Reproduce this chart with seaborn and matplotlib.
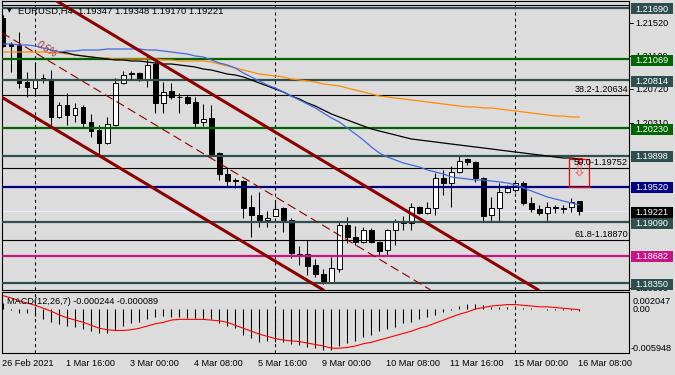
import numpy as np
import pandas as pd
import matplotlib
matplotlib.use('Agg')
import matplotlib.pyplot as plt
import matplotlib.transforms as mtransforms
from matplotlib.patches import Rectangle
import seaborn as sns

sns.set_theme(style='white')
plt.rcParams['font.family'] = ['Liberation Sans', 'DejaVu Sans']

W, H = 675, 375
BG = '#DCDCDC'

# ---------------- data ----------------
opens = [1.21569, 1.21253, 1.21241, 1.20791, 1.20718, 1.20840, 1.20828, 1.20366, 1.20512, 1.20391,
         1.20488, 1.20306, 1.20208, 1.20050, 1.20269, 1.20779, 1.20901, 1.20901, 1.20828, 1.21010,
         1.20536, 1.20682, 1.20615, 1.20609, 1.20549, 1.20306, 1.20354, 1.19929, 1.19674, 1.19595,
         1.19589, 1.19273, 1.19176, 1.19115, 1.19164, 1.19261, 1.19115, 1.18708, 1.18702, 1.18569,
         1.18460, 1.18362, 1.18520, 1.19055, 1.18909, 1.18848, 1.18994, 1.18848, 1.18751, 1.18994,
         1.19103, 1.19079, 1.19273, 1.19200, 1.19261, 1.19625, 1.19565, 1.19698, 1.19856, 1.19820,
         1.19625, 1.19176, 1.19261, 1.19455, 1.19480, 1.19565, 1.19322, 1.19249, 1.19200, 1.19267,
         1.19249, 1.19273, 1.19347]
highs = [1.21605, 1.21277, 1.21399, 1.20913, 1.21022, 1.20888, 1.20937, 1.20549, 1.20658, 1.20536,
         1.20512, 1.20403, 1.20269, 1.20366, 1.20840, 1.20925, 1.20925, 1.20913, 1.21107, 1.21034,
         1.20791, 1.20779, 1.20658, 1.20633, 1.20609, 1.20524, 1.20512, 1.19941, 1.19759, 1.19625,
         1.19601, 1.19419, 1.19455, 1.19225, 1.19346, 1.19273, 1.19140, 1.18800, 1.18872, 1.18642,
         1.18520, 1.18666, 1.19091, 1.19152, 1.19042, 1.19030, 1.19018, 1.18860, 1.19006, 1.19128,
         1.19164, 1.19322, 1.19285, 1.19334, 1.19686, 1.19723, 1.19771, 1.19905, 1.19868, 1.19832,
         1.19638, 1.19395, 1.19565, 1.19540, 1.19601, 1.19589, 1.19395, 1.19298, 1.19334, 1.19298,
         1.19298, 1.19383, 1.19348]
lows = [1.21216, 1.20913, 1.20718, 1.20609, 1.20633, 1.20779, 1.20269, 1.20354, 1.20269, 1.20306,
        1.20245, 1.20123, 1.19905, 1.20038, 1.20257, 1.20767, 1.20816, 1.20803, 1.20731, 1.20415,
        1.20415, 1.20585, 1.20415, 1.20524, 1.20245, 1.20257, 1.19880, 1.19601, 1.19516, 1.19504,
        1.19140, 1.18909, 1.19030, 1.19030, 1.19158, 1.18970, 1.18654, 1.18569, 1.18447, 1.18423,
        1.18338, 1.18350, 1.18484, 1.18836, 1.18812, 1.18836, 1.18836, 1.18690, 1.18690, 1.18812,
        1.18994, 1.18994, 1.19188, 1.19194, 1.19176, 1.19419, 1.19273, 1.19686, 1.19783, 1.19577,
        1.19091, 1.19091, 1.19091, 1.19443, 1.19455, 1.19298, 1.19213, 1.19176, 1.19103, 1.19200,
        1.19200, 1.19213, 1.19170]
closes = [1.21229, 1.21229, 1.20779, 1.20731, 1.20828, 1.20816, 1.20366, 1.20512, 1.20391, 1.20476,
          1.20293, 1.20196, 1.20050, 1.20281, 1.20779, 1.20876, 1.20888, 1.20816, 1.20998, 1.20536,
          1.20670, 1.20609, 1.20603, 1.20536, 1.20293, 1.20342, 1.19917, 1.19674, 1.19589, 1.19583,
          1.19261, 1.19176, 1.19103, 1.19140, 1.19249, 1.19103, 1.18715, 1.18696, 1.18557, 1.18460,
          1.18362, 1.18532, 1.19055, 1.18909, 1.18848, 1.18994, 1.18848, 1.18739, 1.18994, 1.19091,
          1.19073, 1.19273, 1.19200, 1.19261, 1.19625, 1.19565, 1.19698, 1.19832, 1.19820, 1.19625,
          1.19164, 1.19261, 1.19455, 1.19504, 1.19565, 1.19322, 1.19249, 1.19200, 1.19273, 1.19255,
          1.19255, 1.19334, 1.19221]

ma_blue = [1.21253, 1.21253, 1.21241, 1.21241, 1.21229, 1.21204, 1.21180, 1.21156, 1.21168, 1.21168,
           1.21180, 1.21180, 1.21180, 1.21192, 1.21192, 1.21192, 1.21192, 1.21192, 1.21180, 1.21180,
           1.21168, 1.21156, 1.21143, 1.21131, 1.21107, 1.21095, 1.21059, 1.21022, 1.20998, 1.20961,
           1.20901, 1.20852, 1.20803, 1.20755, 1.20718, 1.20670, 1.20621, 1.20573, 1.20524, 1.20476,
           1.20415, 1.20354, 1.20306, 1.20233, 1.20160, 1.20087, 1.20002, 1.19929, 1.19880, 1.19844,
           1.19808, 1.19783, 1.19759, 1.19723, 1.19698, 1.19674, 1.19638, 1.19625, 1.19613, 1.19601,
           1.19601, 1.19589, 1.19577, 1.19565, 1.19540, 1.19504, 1.19468, 1.19431, 1.19395, 1.19370,
           1.19346, 1.19322, 1.19298]
ma_black = [np.nan] * 7 + [
    1.21156, 1.21144, 1.21119,
    1.21107, 1.21095, 1.21083, 1.21071, 1.21059, 1.21059, 1.21046, 1.21046, 1.21034, 1.21022,
    1.21010, 1.21010, 1.20998, 1.20986, 1.20973, 1.20949, 1.20937, 1.20913, 1.20888, 1.20876,
    1.20852, 1.20816, 1.20779, 1.20743, 1.20706, 1.20670, 1.20621, 1.20585, 1.20536, 1.20500,
    1.20451, 1.20403, 1.20366, 1.20330, 1.20293, 1.20257, 1.20221, 1.20196, 1.20172, 1.20148,
    1.20123, 1.20099, 1.20087, 1.20075, 1.20063, 1.20050, 1.20038, 1.20026, 1.20014, 1.20002,
    1.19990, 1.19978, 1.19965, 1.19953, 1.19941, 1.19929, 1.19917, 1.19905, 1.19893, 1.19880,
    1.19868, 1.19868, 1.19856]
ma_orange = [1.21156, 1.21156, 1.21156, 1.21156, 1.21156, 1.21156, 1.21144, 1.21144, 1.21131, 1.21119,
             1.21107, 1.21095, 1.21083, 1.21083, 1.21071, 1.21071, 1.21071, 1.21071, 1.21071, 1.21071,
             1.21059, 1.21059, 1.21046, 1.21046, 1.21046, 1.21046, 1.21034, 1.21010, 1.20986, 1.20961,
             1.20937, 1.20913, 1.20888, 1.20876, 1.20864, 1.20852, 1.20828, 1.20816, 1.20803, 1.20791,
             1.20767, 1.20755, 1.20743, 1.20718, 1.20694, 1.20670, 1.20646, 1.20621, 1.20609, 1.20597,
             1.20585, 1.20573, 1.20561, 1.20549, 1.20536, 1.20524, 1.20512, 1.20500, 1.20488, 1.20488,
             1.20476, 1.20476, 1.20463, 1.20451, 1.20439, 1.20427, 1.20415, 1.20403, 1.20391, 1.20378,
             1.20378, 1.20366, 1.20366]

macd_main = [0.0008, -0.0001, -0.0005, -0.0006, -0.0010, -0.0014, -0.0018, -0.0020, -0.0023, -0.0025,
             -0.0027, -0.0030, -0.0033, -0.0033, -0.0028, -0.0023, -0.0019, -0.0017, -0.0014, -0.0011,
             -0.0010, -0.0011, -0.0011, -0.0012, -0.0012, -0.0013, -0.0014, -0.0019, -0.0023, -0.0026,
             -0.0035, -0.0039, -0.0044, -0.0043, -0.0044, -0.0044, -0.0047, -0.0049, -0.0051, -0.0053,
             -0.0055, -0.0055, -0.0050, -0.0046, -0.0043, -0.0038, -0.0035, -0.0030, -0.0027, -0.0024,
             -0.0019, -0.0017, -0.0014, -0.0011, -0.0008, -0.0004, -0.0001, 0.0004, 0.0007, 0.0007,
             0.0005, 0.0003, 0.0003, 0.0003, 0.0002, 0.0002, 0.0001, 0.0000, -0.0001, -0.0001,
             -0.0002, -0.0002, -0.000244]
macd_signal = [0.0018, 0.0015, 0.0011, 0.0008, 0.0005, 0.0001, -0.0003, -0.0008, -0.0012, -0.0015,
               -0.0018, -0.0022, -0.0026, -0.0028, -0.0029, -0.0029, -0.0028, -0.0026, -0.0023, -0.0020,
               -0.0018, -0.0015, -0.0014, -0.0014, -0.0014, -0.0014, -0.0015, -0.0016, -0.0018, -0.0022,
               -0.0026, -0.0030, -0.0034, -0.0037, -0.0040, -0.0042, -0.0043, -0.0044, -0.0046, -0.0048,
               -0.0050, -0.0053, -0.0053, -0.0052, -0.0050, -0.0047, -0.0045, -0.0042, -0.0039, -0.0036,
               -0.0033, -0.0030, -0.0026, -0.0023, -0.0019, -0.0015, -0.0011, -0.0007, -0.0004, 0.0000,
               0.0002, 0.0004, 0.0005, 0.0006, 0.0006, 0.0005, 0.0004, 0.0003, 0.0003, 0.0002,
               0.0001, 0.0000, -0.000089]

time_label_bars = [0, 8, 16, 24, 32, 40, 48, 56, 64, 72]
time_labels = ['26 Feb 2021', '1 Mar 16:00', '3 Mar 00:00', '4 Mar 08:00', '5 Mar 16:00',
               '9 Mar 00:00', '10 Mar 08:00', '11 Mar 16:00', '15 Mar 00:00', '16 Mar 08:00']
week_separator_bars = [4, 34, 64]

level_prices = [1.21690, 1.21069, 1.20814, 1.20230, 1.19898, 1.19520, 1.19090, 1.18682, 1.18350]
level_colors = ['#2F4F4F', '#006400', '#2F4F4F', '#006400', '#2F4F4F', '#000080', '#2F4F4F',
                '#C71585', '#2F4F4F']
scale_ticks = [1.21520, 1.21120, 1.20720, 1.20310, 1.18300]
fib_levels = [23.6, 38.2, 50.0, 61.8]
fib_prices = [1.21725, 1.20634, 1.19752, 1.18870]
macd_scale_values = [0.002047, 0.0, -0.005948]
macd_scale_labels = ['0.002047', '0.00', '-0.005948']

# channel objects (time index, price anchors)
channel_upper = [(10, 1.21581), (60, 1.18666)]
channel_lower = [(0, 1.20595), (40, 1.18265)]
channel_mid = [(10, 1.20796), (60, 1.17881)]
signal_box = (70.71, 1.19516, 2.5, 0.00340)
signal_marker = (71.84, 1.19820, 0.5, 0.00048)
signal_arrow = (72.0, 1.19710)

# ---------------- figure ----------------
bars = np.arange(len(closes))
o = np.array(opens); c = np.array(closes); hi = np.array(highs); lo = np.array(lows)
PX = 0.000121449  # price per pixel

fig = plt.figure(figsize=(W / 100, H / 100), dpi=100, facecolor=BG)
ax = fig.add_axes([2 / W, 1 - 290 / H, 627 / W, 289 / H])
ax2 = fig.add_axes([2 / W, 1 - 353 / H, 627 / W, 61 / H])
for a in (ax, ax2):
    a.set_facecolor(BG)
    for s in a.spines.values():
        s.set_color('black')
        s.set_linewidth(0.8)
    a.set_xlim(-0.16, 78.2)
ax.set_ylim(1.18265, 1.21775)
ax2.set_ylim(-0.005948, 0.0023)

# separators
for k in week_separator_bars:
    for a in (ax, ax2):
        a.axvline(k, color='black', lw=0.75, ls=(0, (3, 3)), zorder=1)

# horizontal levels
ax.axhline(closes[-1], color='#ECECFF', lw=0.9, zorder=1.5)
for p, col in zip(level_prices, level_colors):
    ax.axhline(p, color=col, lw=1.6, zorder=4)
trf = mtransforms.blended_transform_factory(ax.transAxes, ax.transData)
for lvl, p in zip(fib_levels, fib_prices):
    ax.axhline(p, color='black', lw=0.8, zorder=4)
    ax.text(0.9985, p + 0.8 * PX, f'{lvl:.1f}-{p:.5f}', transform=trf,
            ha='right', va='bottom', fontsize=6.6, color='black', zorder=9, clip_on=True)

# candles
up = c >= o
ax.vlines(bars, lo, hi, color='black', lw=0.75, zorder=2)
ax.bar(bars, np.maximum(np.abs(c - o), 0.00002), bottom=np.minimum(o, c), width=0.55,
       color=np.where(up, 'white', 'black'), edgecolor='black', linewidth=0.7, zorder=3)

# moving averages
df = pd.DataFrame({'bar': bars, 'blue': ma_blue, 'black': ma_black, 'orange': ma_orange})
sns.lineplot(data=df, x='bar', y='orange', ax=ax, color='#FF8C00', lw=0.9, zorder=5)
sns.lineplot(data=df, x='bar', y='black', ax=ax, color='black', lw=0.9, zorder=5)
sns.lineplot(data=df, x='bar', y='blue', ax=ax, color='#4169E1', lw=0.9, zorder=5)

# channel
ax.axline(channel_upper[0], channel_upper[1], color='#8B0000', lw=2.2, zorder=6)
ax.axline(channel_lower[0], channel_lower[1], color='#8B0000', lw=2.2, zorder=6)
ax.axline(channel_mid[0], channel_mid[1], color='#8B0000', lw=0.8, ls=(0, (8, 4)), zorder=6)
ax.text(5.46, 1.21192, '0.5%', rotation=-32, color='#A03030', fontsize=7, style='italic',
        ha='center', va='center', zorder=7)

# signal box
ax.add_patch(Rectangle(signal_box[:2], signal_box[2], signal_box[3], fill=False, ec='#FF0000', lw=0.9, zorder=8))
ax.add_patch(Rectangle(signal_marker[:2], signal_marker[2], signal_marker[3], fill=False, ec='#FF0000', lw=0.8, zorder=8))
ax.text(*signal_arrow, '\u21e9', color='#FF5A5A', fontsize=13, ha='center', va='center',
        family='DejaVu Sans', zorder=8)

ax.set_xlabel(''); ax.set_ylabel('')
ax.set_xticks([]); ax.set_yticks([])

# right price scale
tr = mtransforms.blended_transform_factory(ax.transAxes, ax.transData)
def xa(px):
    return (px - 2) / 627
for p in scale_ticks:
    ax.plot([xa(629), xa(633)], [p - PX, p - PX], transform=tr, color='black', lw=0.7, clip_on=False, zorder=20)
    ax.text(xa(635), p - 1.5 * PX, f'{p:.5f}', transform=tr, fontsize=6.6, va='center', ha='left',
            color='black', clip_on=False, zorder=20)
for p, col in list(zip(level_prices, level_colors)) + [(closes[-1], '#000000')]:
    ax.add_patch(Rectangle((xa(630.5), p - 6.5 * PX), xa(673) - xa(630.5), 11 * PX, transform=tr,
                           fc=col, ec='none', clip_on=False, zorder=30))
    ax.text(xa(635), p - 1.2 * PX, f'{p:.5f}', transform=tr, fontsize=6.6, va='center', ha='left',
            color='white', clip_on=False, zorder=31)

# MACD
ax2.vlines(bars, 0, macd_main, color='black', lw=0.75, zorder=2)
sns.lineplot(x=bars, y=macd_signal, ax=ax2, color='#FF0000', lw=0.8, zorder=3)
ax2.set_xlabel(''); ax2.set_ylabel('')
ax2.set_xticks([]); ax2.set_yticks([])
tr2 = mtransforms.blended_transform_factory(ax2.transAxes, ax2.transData)
for v, lab, va in zip(macd_scale_values, macd_scale_labels, ['top', 'center', 'bottom']):
    ax2.text(xa(633) if not lab.startswith('-') else xa(630.5), v - (0.0004 if va == 'top' else 0), lab,
             transform=tr2, fontsize=6.6, va=va, ha='left', color='black', clip_on=False)
fig.text(7 / W, 1 - 301 / H, f'MACD(12,26,7) {macd_main[-1]:.6f} {macd_signal[-1]:.6f}',
         fontsize=6.6, va='center', ha='left', color='black')

# time axis
tr3 = mtransforms.blended_transform_factory(ax2.transData, fig.transFigure)
for k, lab in zip(time_label_bars, time_labels):
    ax2.text(k - 0.15, 1 - 363 / H, lab, transform=tr3, fontsize=6.6, ha='left', va='center',
             color='black', clip_on=False)

# title
fig.text(7 / W, 1 - 11 / H, '\u25bc', fontsize=4.5, family='DejaVu Sans', va='center', color='black')
fig.text(18 / W, 1 - 11 / H, f'EURUSD,H4  {opens[-1]:.5f} {highs[-1]:.5f} {lows[-1]:.5f} {closes[-1]:.5f}',
         fontsize=6.8, va='center', ha='left', color='black')

fig.savefig('out.png', dpi=100, facecolor=BG)
